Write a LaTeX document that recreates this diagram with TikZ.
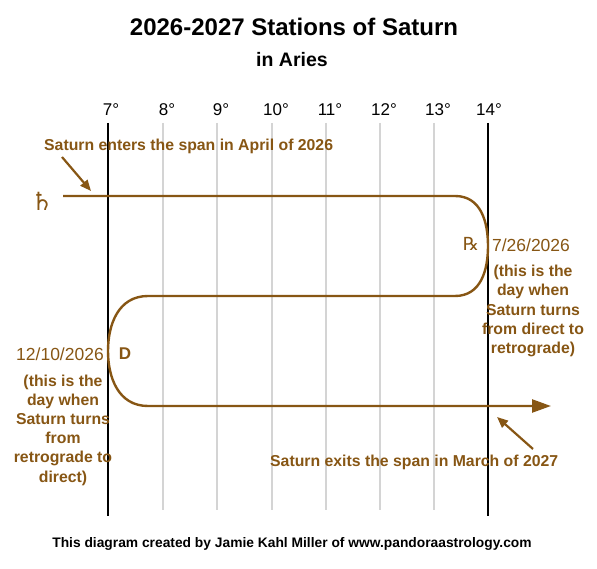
\documentclass[tikz,border=0pt]{standalone}
\usepackage{fontspec}
\setmainfont{Liberation Sans}
\newfontfamily\symfont{DejaVu Sans}
\usetikzlibrary{arrows.meta}
\definecolor{satbrown}{RGB}{135,86,20}
\definecolor{gridgray}{RGB}{212,212,212}
\tikzset{
  brownpath/.style={draw=satbrown, line width=2.4pt},
  pointer/.style={draw=satbrown, line width=2.2pt, -{Triangle[length=11pt,width=9pt]}},
  blackline/.style={draw=black, line width=2.8pt},
  grayline/.style={draw=gridgray, line width=2.8pt},
  deg/.style={font=\fontsize{17}{19}\selectfont, anchor=base},
  note/.style={text=satbrown, font=\bfseries\fontsize{15.8}{19.2}\selectfont, align=center},
  date/.style={text=satbrown, font=\fontsize{17.5}{20}\selectfont},
}
\begin{document}
\begin{tikzpicture}[x=1pt,y=-1pt]
\useasboundingbox (0,0) rectangle (597,569);
% title
\node[font=\bfseries\fontsize{24}{28}\selectfont] (title) at (294,27) {2026-2027 Stations of Saturn};
\node[font=\bfseries\fontsize{19.5}{22}\selectfont] (sub) at (292,60) {in Aries};
% degree lines
\foreach \x/\d [count=\i] in {163/8,217/9,272/10,326/11,380/12,434/13}{
  \coordinate (g\i t) at (\x,123);
  \coordinate (g\i b) at (\x,510);
  \draw[grayline] (g\i t) -- (g\i b);
  \node[deg] (lab\i) at (\x+4,116) {\d°};
}
\coordinate (s7t) at (108,123); \coordinate (s7b) at (108,516);
\coordinate (s14t) at (488,123); \coordinate (s14b) at (488,516);
\draw[blackline] (s7t) -- (s7b);
\draw[blackline] (s14t) -- (s14b);
\node[deg] (lab7) at (111,116) {7°};
\node[deg] (lab14) at (489,116) {14°};
% saturn path
\coordinate (p0) at (63,196);
\coordinate (p1) at (455,196);
\coordinate (p2) at (488,246);
\coordinate (p3) at (455,296);
\coordinate (p4) at (148,296);
\coordinate (p5) at (108,351);
\coordinate (p6) at (148,406);
\coordinate (p7) at (551,406);
\draw[brownpath, -{Triangle[length=19pt,width=13pt]}] (p0) -- (p1)
  .. controls (481,196) and (488,222) .. (p2)
  .. controls (488,270) and (481,296) .. (p3) -- (p4)
  .. controls (118,296) and (108,325) .. (p5)
  .. controls (108,377) and (118,406) .. (p6) -- (p7);
% symbols
\node[text=satbrown, font=\symfont\bfseries\fontsize{25}{26}\selectfont] (saturn) at (42,201) {♄};
\node[text=satbrown, font=\symfont\fontsize{18}{20}\selectfont] (rx) at (471,244) {℞};
\node[text=satbrown, font=\bfseries\fontsize{17}{19}\selectfont] (dnode) at (125,354) {D};
% dates and notes
\node[date] (date1) at (531,245) {7/26/2026};
\node[note] (note1) at (533,311) {(this is the\\day when\\Saturn turns\\from direct to\\retrograde)};
\node[date] (date2) at (60,354) {12/10/2026};
\node[note] (note2) at (63,430) {(this is the\\day when\\Saturn turns\\from\\retrograde to\\direct)};
% enter / exit
\node[note, anchor=west, inner sep=0pt] (enter) at (44,146) {Saturn enters the span in April of 2026};
\node[note, anchor=west, inner sep=0pt] (exit) at (270,462) {Saturn exits the span in March of 2027};
\coordinate (e0) at (62,157); \coordinate (e1) at (91,191);
\draw[pointer] (e0) -- (e1);
\coordinate (x0) at (533,449); \coordinate (x1) at (497,417);
\draw[pointer] (x0) -- (x1);
% footer
\node[font=\bfseries\fontsize{13.8}{16}\selectfont] (footer) at (292,544) {This diagram created by Jamie Kahl Miller of www.pandoraastrology.com};
\end{tikzpicture}
\end{document}
